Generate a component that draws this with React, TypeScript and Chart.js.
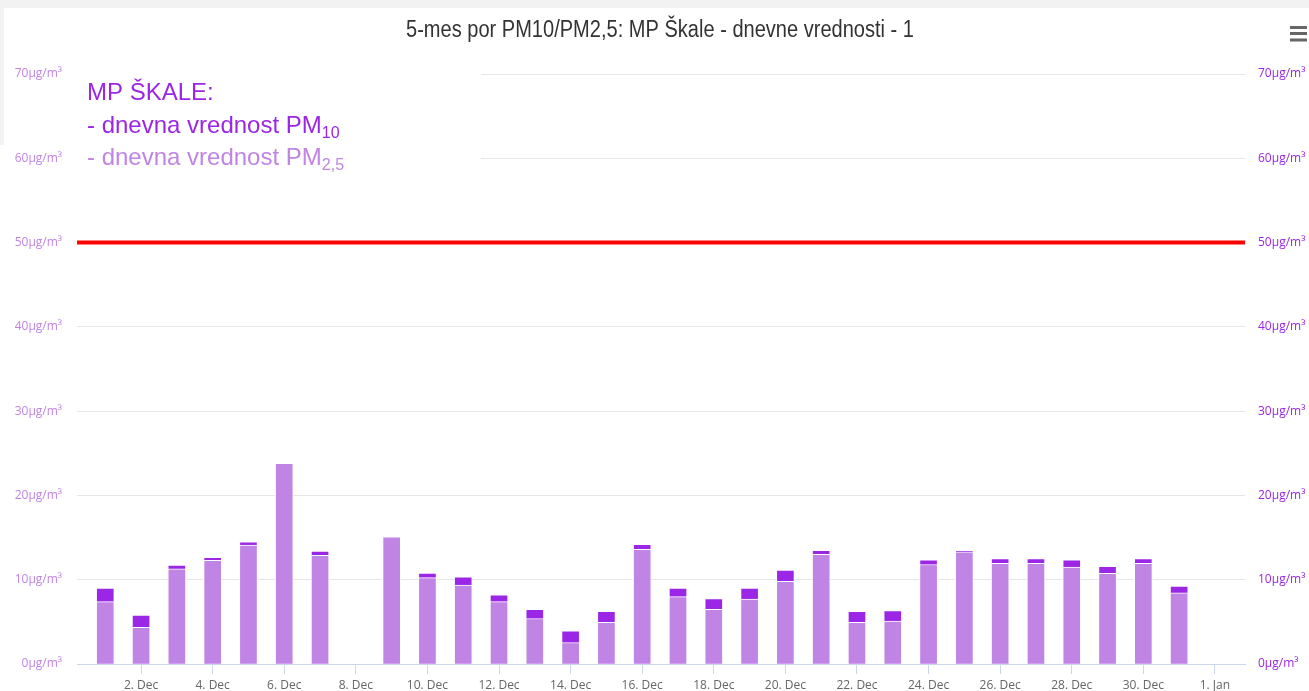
import { useEffect, useRef } from 'react';
import { Chart, registerables } from 'chart.js';
Chart.register(...registerables);

const titleText = '5-mes por PM10/PM2,5: MP Škale - dnevne vrednosti - 1';
const days = [1, 2, 3, 4, 5, 6, 7, 8, 9, 10, 11, 12, 13, 14, 15, 16, 17, 18, 19, 20, 21, 22, 23, 24, 25, 26, 27, 28, 29, 30, 31];
const pm10 = [9.0, 5.8, 11.75, 12.65, 14.5, 23.8, 13.4, null, 15.1, 10.8, 10.35, 8.2, 6.5, 3.95, 6.25, 14.2, 9.0, 7.75, 9.0, 11.15, 13.5, 6.25, 6.35, 12.35, 13.5, 12.5, 12.5, 12.35, 11.6, 12.5, 9.25];
const pm25 = [7.4, 4.35, 11.3, 12.3, 14.1, 23.8, 12.9, null, 15.1, 10.25, 9.35, 7.4, 5.4, 2.55, 4.95, 13.6, 8.0, 6.5, 7.7, 9.8, 13.0, 4.95, 5.1, 11.8, 13.3, 11.95, 11.95, 11.5, 10.75, 11.95, 8.45];
const tickDays = [2, 4, 6, 8, 10, 12, 14, 16, 18, 20, 22, 24, 26, 28, 30, 32];
const tickLabels = ['2. Dec', '4. Dec', '6. Dec', '8. Dec', '10. Dec', '12. Dec', '14. Dec', '16. Dec', '18. Dec', '20. Dec', '22. Dec', '24. Dec', '26. Dec', '28. Dec', '30. Dec', '1. Jan'];
const dailyLimit = 50;
const xMin = 0.21;
const xMax = 32.84;
const yMin = 0;
const yMax = 70;
const yStep = 10;
const yUnit = 'μg/m³';

const DARK = '#9b26e6';
const LIGHT = '#c084e5';

const decorPlugin = {
  id: 'decor',
  beforeDraw(chart: any) {
    const ctx = chart.ctx;
    ctx.save();
    ctx.fillStyle = '#ffffff';
    ctx.fillRect(0, 0, chart.width, chart.height);
    ctx.fillStyle = '#f2f2f2';
    ctx.fillRect(0, 0, chart.width, 8);
    ctx.fillRect(0, 8, 4, 137);
    ctx.restore();
  },
  beforeDatasetsDraw(chart: any) {
    const ctx = chart.ctx;
    ctx.save();
    ctx.fillStyle = '#ffffff';
    ctx.fillRect(chart.chartArea.left, 60, 404, 115);
    ctx.restore();
  },
  afterDraw(chart: any) {
    const ctx = chart.ctx;
    ctx.save();
    // title
    ctx.fillStyle = '#333333';
    ctx.font = '23px "Liberation Sans", Arial, sans-serif';
    ctx.textAlign = 'center';
    ctx.textBaseline = 'alphabetic';
    ctx.fillText(titleText, 660, 37, 508);
    // annotation
    ctx.textAlign = 'left';
    ctx.font = '24px "Liberation Sans", Arial, sans-serif';
    ctx.fillStyle = DARK;
    ctx.fillText('MP ŠKALE:', 87, 100);
    const l2 = '- dnevna vrednost PM';
    ctx.fillText(l2, 87, 132.5);
    let w = ctx.measureText(l2).width;
    ctx.font = '16px "Liberation Sans", Arial, sans-serif';
    ctx.fillText('10', 87 + w, 137.5);
    ctx.font = '24px "Liberation Sans", Arial, sans-serif';
    ctx.fillStyle = LIGHT;
    ctx.fillText(l2, 87, 165);
    w = ctx.measureText(l2).width;
    ctx.font = '16px "Liberation Sans", Arial, sans-serif';
    ctx.fillText('2,5', 87 + w, 170);
    // menu icon
    ctx.fillStyle = '#666666';
    [26, 32, 38.5].forEach((y) => {
      ctx.fillRect(1290, y, 17, 3);
    });
    ctx.restore();
  },
};

export default function App() {
  const ref = useRef<HTMLCanvasElement | null>(null);
  useEffect(() => {
    if (!ref.current) return;
    const axisFont = { family: '"Open Sans", "Liberation Sans", sans-serif', size: 12 };
    const chart = new Chart(ref.current, {
      type: 'bar',
      data: {
        datasets: [
          {
            type: 'line',
            label: 'limit',
            data: [{ x: xMin, y: dailyLimit }, { x: xMax, y: dailyLimit }],
            borderColor: '#ff0000',
            borderWidth: 4,
            pointRadius: 0,
            order: 0,
          } as any,
          {
            label: 'PM2,5',
            data: days.map((d, i) => ({ x: d, y: pm25[i] })),
            backgroundColor: LIGHT,
            borderColor: '#ffffff',
            borderWidth: 1,
            barThickness: 18,
            grouped: false,
            order: 1,
          } as any,
          {
            label: 'PM10',
            data: days.map((d, i) => ({ x: d, y: pm10[i] })),
            backgroundColor: DARK,
            borderColor: '#ffffff',
            borderWidth: 1,
            barThickness: 18,
            grouped: false,
            order: 2,
          } as any,
        ],
      },
      options: {
        animation: false,
        responsive: false,
        layout: { padding: { top: 74, left: 0, right: 0, bottom: 0 } },
        plugins: { legend: { display: false }, tooltip: { enabled: false }, title: { display: false } },
        scales: {
          x: {
            type: 'linear',
            min: xMin,
            max: xMax,
            offset: false,
            afterBuildTicks: (s: any) => {
              s.ticks = tickDays.map((v) => ({ value: v }));
            },
            afterFit: (s: any) => {
              s.height = 27;
            },
            ticks: {
              autoSkip: false,
              maxRotation: 0,
              color: '#666666',
              font: axisFont,
              padding: 4,
              callback: (v: any) => tickLabels[tickDays.indexOf(Number(v))],
            },
            grid: { offset: false, drawOnChartArea: false, drawTicks: true, tickLength: 10, color: '#ccd6eb' },
            border: { color: '#ccd6eb', width: 1 },
          },
          y: {
            position: 'left',
            min: yMin,
            max: yMax,
            afterFit: (s: any) => {
              s.width = 77;
            },
            ticks: {
              stepSize: yStep,
              color: LIGHT,
              padding: 15,
              font: axisFont,
              callback: (v: any) => v + yUnit,
            },
            grid: { color: '#e6e6e6', drawTicks: false },
            border: { display: false },
          },
          y2: {
            position: 'right',
            min: yMin,
            max: yMax,
            afterFit: (s: any) => {
              s.width = 64;
            },
            ticks: {
              stepSize: yStep,
              color: DARK,
              padding: 13,
              font: axisFont,
              callback: (v: any) => v + yUnit,
            },
            grid: { drawOnChartArea: false, drawTicks: false },
            border: { display: false },
          },
        },
      } as any,
      plugins: [decorPlugin],
    });
    return () => chart.destroy();
  }, []);
  return (
    <div style={{ position: 'fixed', left: 0, top: 0, width: 1309, height: 691 }}>
      <canvas ref={ref} width={1309} height={691} />
    </div>
  );
}
